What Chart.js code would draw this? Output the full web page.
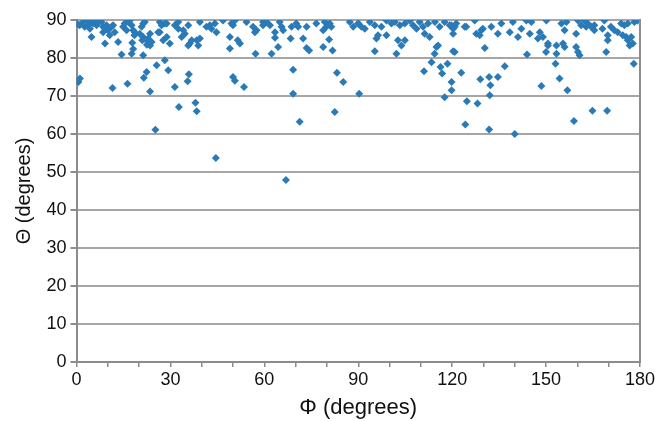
<!DOCTYPE html>
<html>
<head>
<meta charset="utf-8">
<script src="https://cdn.jsdelivr.net/npm/chart.js@4"></script>
<style>
html,body{margin:0;padding:0;background:#fff;}
#wrap{width:658px;height:421px;position:relative;}
</style>
</head>
<body>
<div id="wrap"><canvas id="c" width="658" height="421"></canvas></div>
<script>
// Φ (degrees) values
const phiValues = [
0.6,1.1,11.5,16.3,23.5,25.2,22.4,21.5,25.6,14.4,17.6,18.1,21.3,9.1,13.3,4.8,28.2,29.3,27.7,26.6,23.5,22.5,22.8,17.8,18.5,
31.4,32.7,35.9,35.5,38.0,38.4,50.0,50.6,53.5,57.2,49.0,51.5,52.2,49.0,36.2,36.8,38.4,39.4,35.7,38.9,33.6,34.6,34.1,29.8,44.5,
63.4,63.4,64.4,62.3,68.4,72.4,73.5,74.3,78.8,80.7,81.8,69.2,83.2,85.2,69.2,82.5,71.3,90.3,66.9,
95.3,102.2,102.7,103.8,104.9,96.3,95.8,99.0,111.2,112.8,115.0,114.4,115.5,113.4,111.0,116.3,116.8,118.5,120.3,119.8,119.8,117.6,
120.8,130.4,143.9,150.0,122.9,129.0,131.8,132.2,134.6,136.8,148.5,124.7,128.1,132.0,124.2,131.8,140.0,
153.0,154.3,156.8,164.8,169.5,158.9,178.0,169.2,153.3,159.6,160.2,160.7,150.6,153.3,155.4,155.9,169.7,169.7,172.9,174.5,175.6,176.1,176.7,177.7,177.2,
0.2,1.0,2.1,2.6,3.2,3.7,4.3,4.8,5.3,5.9,6.4,6.9,8.0,8.5,9.1,9.6,10.1,8.5,10.6,11.2,11.7,12.2,14.9,15.4,16.5,17.0,17.6,16.0,18.1,18.6,20.2,20.8,21.3,21.8,21.0,21.3,22.9,23.5,26.1,26.6,27.2,28.2,28.8,24.0,
28.8,31.4,32.5,32.5,35.7,39.4,41.5,42.6,44.2,44.7,43.1,46.8,49.5,50.6,50.0,54.3,56.4,57.5,59.6,57.0,
60.7,61.8,64.9,65.5,66.0,68.7,70.2,70.8,73.5,76.6,79.3,79.8,80.9,81.4,87.3,88.4,90.0,78.8,59.6,
90.0,91.0,92.1,93.7,95.3,97.4,99.0,100.6,101.7,103.3,104.9,106.5,107.5,109.6,110.7,112.3,114.5,116.0,117.6,119.2,120.3,108.6,
119.7,120.8,120.3,121.3,124.0,124.5,127.2,127.7,128.8,129.3,129.8,132.5,134.6,135.7,138.4,139.4,141.0,142.1,143.7,144.8,145.3,147.4,148.0,149.0,150.1,150.6,
154.9,156.5,160.2,162.2,163.3,164.4,168.6,174.0,176.1,178.2,179.2,155.9,159.6,161.2,162.8,165.4,165.4,168.0,171.8,170.7,175.0
];
// Θ (degrees) values
const thetaValues = [
73.7,74.6,72.1,73.2,71.2,61.1,76.3,74.8,78.1,80.9,81.1,82.4,80.7,83.8,84.2,85.5,79.4,76.8,84.7,86.8,86.4,83.5,84.3,84.0,86.0,
72.4,67.1,75.7,73.9,68.2,66.0,75.0,74.0,72.4,81.1,85.5,84.7,83.8,82.5,83.8,84.7,84.7,85.1,83.3,83.3,85.5,86.4,87.3,83.8,53.7,
86.8,85.3,82.9,81.1,85.1,85.1,82.6,82.0,82.9,84.9,82.0,76.9,76.1,73.7,70.6,65.8,63.2,70.6,47.9,
81.8,81.1,84.7,83.3,84.7,86.0,85.1,86.0,86.4,85.5,82.9,81.1,83.3,78.9,76.5,77.6,75.9,78.5,81.8,73.7,71.5,69.7,
81.6,82.6,80.9,81.6,76.1,74.4,75.0,72.8,75.0,77.8,72.6,68.6,68.0,70.2,62.5,61.2,60.0,
78.5,74.6,71.5,66.1,66.1,63.4,78.5,81.6,81.1,82.9,81.6,80.7,83.3,83.3,83.8,82.9,86.0,84.7,86.8,86.0,85.5,84.7,83.3,83.8,85.5,
89.0,88.6,89.5,88.2,89.9,88.6,87.7,89.5,89.1,89.9,88.6,89.5,89.5,88.2,87.7,88.6,87.3,86.8,86.0,88.2,88.6,86.8,88.2,89.1,89.5,89.9,88.6,87.3,87.3,86.8,86.4,88.2,89.1,89.5,84.7,85.5,85.1,83.3,86.8,89.5,88.6,89.1,85.5,84.2,
89.1,88.6,89.5,87.7,88.6,89.5,88.2,88.6,89.1,86.8,87.7,89.9,89.1,89.9,88.6,89.5,88.2,87.3,89.5,86.8,
89.5,88.6,89.5,88.2,87.3,88.2,89.1,88.2,88.2,89.1,89.5,88.2,89.1,88.2,89.5,88.2,89.1,87.3,88.6,
89.1,88.2,87.7,89.5,88.6,88.2,89.9,89.1,89.5,88.6,89.1,89.9,88.6,89.5,88.2,89.1,89.5,88.2,89.5,88.6,87.7,87.7,
88.6,88.2,86.4,89.1,88.2,88.2,89.9,86.4,86.0,87.3,87.7,88.2,86.4,89.1,86.8,89.5,85.5,87.7,89.9,86.4,89.5,85.1,86.8,85.5,89.9,83.8,
89.1,89.5,89.9,89.9,89.1,88.2,89.9,89.1,89.1,89.5,89.9,87.3,86.4,88.6,88.2,88.6,87.3,87.7,87.3,88.2,88.6
];
const xTickLabels = [0, 30, 60, 90, 120, 150, 180];
const yTickLabels = [0, 10, 20, 30, 40, 50, 60, 70, 80, 90];

const points = phiValues.map((p, i) => ({x: p, y: thetaValues[i]}));
const FONT = "'Liberation Sans', Arial, Helvetica, sans-serif";
const AXIS_COLOR = '#8c8c8c';
const GRID_COLOR = '#a6a6a6';

const rightBorder = {
  id: 'rightBorder',
  afterDraw(chart) {
    const {ctx, chartArea} = chart;
    ctx.save();
    ctx.strokeStyle = AXIS_COLOR;
    ctx.lineWidth = 2;
    ctx.beginPath();
    ctx.moveTo(chartArea.right, chartArea.top - 1);
    ctx.lineTo(chartArea.right, chartArea.bottom + 1);
    ctx.stroke();
    ctx.restore();
  }
};

new Chart(document.getElementById('c'), {
  type: 'scatter',
  data: {
    datasets: [{
      data: points,
      pointStyle: 'rectRot',
      pointRadius: 4,
      pointHoverRadius: 4,
      backgroundColor: '#2a7ab8',
      borderColor: '#2a7ab8',
      borderWidth: 0
    }]
  },
  options: {
    responsive: false,
    animation: false,
    events: [],
    layout: {padding: {left: 0, right: 18, top: 20, bottom: 0}},
    plugins: {legend: {display: false}, tooltip: {enabled: false}},
    scales: {
      x: {
        type: 'linear',
        min: 0, max: 180,
        afterFit(s) { s.height = 59; },
        ticks: {
          stepSize: 10,
          autoSkip: false,
          maxRotation: 0,
          padding: 2,
          color: '#111',
          font: {family: FONT, size: 18},
          callback: v => xTickLabels.includes(v) ? String(v) : ''
        },
        grid: {drawOnChartArea: false, drawTicks: true, tickLength: 5, color: AXIS_COLOR, lineWidth: 1.5},
        border: {display: true, color: AXIS_COLOR, width: 2},
        title: {display: true, text: 'Φ (degrees)', color: '#111', font: {family: FONT, size: 22}, padding: {top: 0, bottom: 0}}
      },
      y: {
        type: 'linear',
        min: 0, max: 90,
        afterFit(s) { s.width = 76.5; },
        ticks: {
          stepSize: 10,
          padding: 4,
          color: '#111',
          font: {family: FONT, size: 18},
          callback: v => yTickLabels.includes(v) ? String(v) : ''
        },
        grid: {color: GRID_COLOR, lineWidth: 2, tickLength: 6, tickColor: AXIS_COLOR},
        border: {display: true, color: AXIS_COLOR, width: 2},
        title: {display: true, text: 'Θ (degrees)', color: '#111', font: {family: FONT, size: 20}, padding: {top: 12, bottom: 4}}
      }
    }
  },
  plugins: [rightBorder]
});
</script>
</body>
</html>
